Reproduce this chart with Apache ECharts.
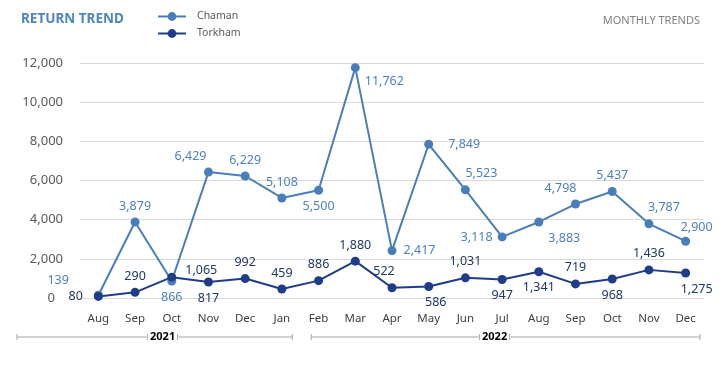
<!DOCTYPE html>
<html><head><meta charset="utf-8">
<script src="https://cdn.jsdelivr.net/npm/echarts@6/dist/echarts.min.js"></script>
<style>html,body{margin:0;padding:0;background:#fff}#c{width:728px;height:371px}</style>
</head><body><div id="c"></div>
<script>
const months = ['Aug','Sep','Oct','Nov','Dec','Jan','Feb','Mar','Apr','May','Jun','Jul','Aug','Sep','Oct','Nov','Dec'];
const chaman = [139,3879,866,6429,6229,5108,5500,11762,2417,7849,5523,3118,3883,4798,5437,3787,2900];
const torkham = [80,290,1065,817,992,459,886,1880,522,586,1031,947,1341,719,968,1436,1275];
const yearLabels = ['2021','2022'];
const yearStartIdx = [0,6];
const yearEndIdx = [5,16];

const FONT = 'Noto Sans';
const chamanPos = [['left',[-20,-15]],['top',[0,0]],['bottom',[0,0]],['top',[-18,0]],['top',[0,0]],['top',[0,0]],['bottom',[0,0]],['right',[0,14]],['right',[2,0]],['right',[10,0]],['top',[16,0]],['left',[0,0]],['right',[0,16]],['top',[-15,0]],['top',[0,0]],['top',[15,0]],['top',[11,2]]];
const torkhamPos = [['left',[-6,0]],['top',[0,0]],['right',[4,-7]],['bottom',[0,0]],['top',[0,0]],['top',[0,0]],['top',[0,0]],['top',[0,0]],['top',[-8,0]],['bottom',[7,0]],['top',[0,0]],['bottom',[0,0]],['bottom',[0,0]],['top',[0,0]],['bottom',[0,0]],['top',[0,0]],['bottom',[11,0]]];
const fmt = v => v.toLocaleString('en-US');
function build(vals, pos, color){
  return vals.map((v,i)=>({value:v,label:{show:true,position:pos[i][0],offset:pos[i][1],color:color,fontFamily:FONT,fontSize:12.5,formatter:p=>fmt(p.value)}}));
}
const chart = echarts.init(document.getElementById('c'));
const C1 = '#4a7ebb', C2 = '#1f3c88';
chart.setOption({
  animation:false,
  grid:{left:80,right:24,top:63,bottom:73},
  legend:{show:true,orient:'vertical',left:152,top:6,itemGap:6,itemWidth:28,itemHeight:11,
    textStyle:{color:'#595959',fontFamily:FONT,fontSize:10.5,padding:[0,0,0,6]},data:['Chaman','Torkham']},
  title:[{text:'RETURN TREND',left:16,top:7,textStyle:{color:'#4f86c0',fontFamily:FONT,fontSize:13.5,fontWeight:'bold'}},
         {text:'MONTHLY TRENDS',right:23,top:10,textStyle:{color:'#808080',fontFamily:FONT,fontSize:11,fontWeight:'normal'}}],
  xAxis:{type:'category',data:months,axisLine:{show:false},axisTick:{show:false},
    axisLabel:{color:'#404040',fontFamily:FONT,fontSize:11.5,margin:15}},
  yAxis:{type:'value',min:0,max:12000,interval:2000,axisLine:{show:false},axisTick:{show:false},
    splitLine:{lineStyle:{color:'#d9d9d9'}},
    axisLabel:{color:'#595959',fontFamily:FONT,fontSize:13,margin:17,
      formatter:v=>v===0?'{z|0}':fmt(v),rich:{z:{padding:[0,8,0,0],fontSize:13,color:'#595959',fontFamily:FONT}}}},
  series:[
    {name:'Chaman',type:'line',data:build(chaman,chamanPos,'#4f81bd'),symbol:'circle',symbolSize:9,
      itemStyle:{color:C1},lineStyle:{color:C1,width:2}},
    {name:'Torkham',type:'line',data:build(torkham,torkhamPos,'#203864'),symbol:'circle',symbolSize:9,
      itemStyle:{color:C2},lineStyle:{color:C2,width:2}}
  ]
});
// year brackets beneath the axis
const p0 = chart.convertToPixel({xAxisIndex:0},0), p1 = chart.convertToPixel({xAxisIndex:0},1);
const band = p1-p0;
const y = 337;
const ext = [[-63,-8],[11,-4]];
const g = [];
yearLabels.forEach((lab,k)=>{
  const x1 = chart.convertToPixel({xAxisIndex:0},yearStartIdx[k]) - band/2 + ext[k][0];
  const x2 = chart.convertToPixel({xAxisIndex:0},yearEndIdx[k]) + band/2 + ext[k][1];
  const cx = (x1+x2)/2 + (k===0?8:-11);
  g.push({type:'line',shape:{x1:x1,y1:y,x2:x2,y2:y},style:{stroke:'#a6a6a6',lineWidth:1}});
  g.push({type:'line',shape:{x1:x1,y1:y-3,x2:x1,y2:y+3},style:{stroke:'#a6a6a6',lineWidth:1}});
  g.push({type:'line',shape:{x1:x2,y1:y-3,x2:x2,y2:y+3},style:{stroke:'#a6a6a6',lineWidth:1}});
  g.push({type:'rect',shape:{x:cx-16,y:y-7,width:32,height:14},style:{fill:'#fff'}});
  g.push({type:'line',shape:{x1:cx-15,y1:y-3,x2:cx-15,y2:y+3},style:{stroke:'#a6a6a6',lineWidth:1}});
  g.push({type:'line',shape:{x1:cx+15,y1:y-3,x2:cx+15,y2:y+3},style:{stroke:'#a6a6a6',lineWidth:1}});
  g.push({type:'text',x:cx,y:y,style:{text:lab,align:'center',verticalAlign:'middle',fill:'#000',font:'bold 11px "Noto Sans"'}});
});
chart.setOption({graphic:g});
</script></body></html>
